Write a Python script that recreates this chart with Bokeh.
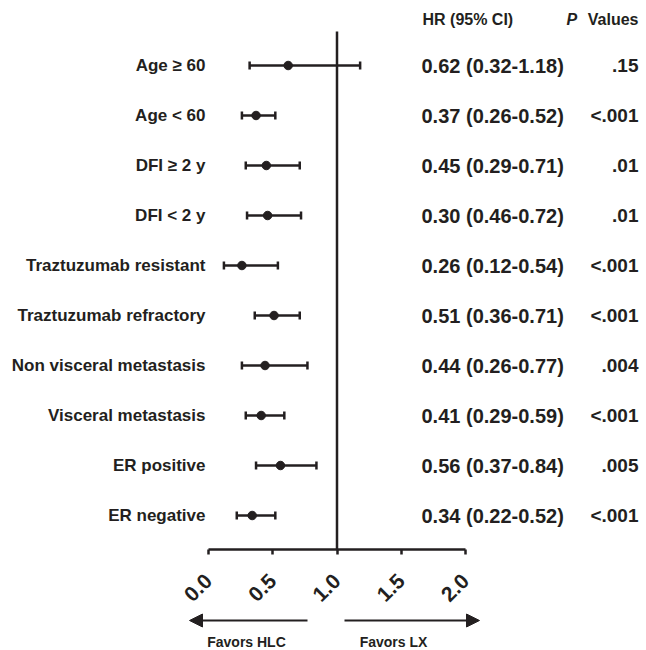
import math
from bokeh.plotting import figure
from bokeh.models import (ColumnDataSource, Range1d, FixedTicker, PrintfTickFormatter,
                          Whisker, TeeHead, Arrow, NormalHead)
from bokeh.core.properties import value
from bokeh.embed import file_html
from bokeh.resources import INLINE

# ---------------- data ----------------
subgroups = ["Age \u2265 60", "Age < 60", "DFI \u2265 2 y", "DFI < 2 y",
             "Traztuzumab resistant", "Traztuzumab refractory",
             "Non visceral metastasis", "Visceral metastasis",
             "ER positive", "ER negative"]
hr = [0.62, 0.37, 0.45, 0.46, 0.26, 0.51, 0.44, 0.41, 0.56, 0.34]
ci_low = [0.32, 0.26, 0.29, 0.30, 0.12, 0.36, 0.26, 0.29, 0.37, 0.22]
ci_high = [1.18, 0.52, 0.71, 0.72, 0.54, 0.71, 0.77, 0.59, 0.84, 0.52]
hr_text = ["0.62 (0.32-1.18)", "0.37 (0.26-0.52)", "0.45 (0.29-0.71)",
           "0.30 (0.46-0.72)", "0.26 (0.12-0.54)", "0.51 (0.36-0.71)",
           "0.44 (0.26-0.77)", "0.41 (0.29-0.59)", "0.56 (0.37-0.84)",
           "0.34 (0.22-0.52)"]
p_values = [".15", "<.001", ".01", ".01", "<.001", "<.001", ".004", "<.001",
            ".005", "<.001"]
x_ticks = [0.0, 0.5, 1.0, 1.5, 2.0]
favors = ["Favors HLC", "Favors LX"]

# ---------------- layout ----------------
INK = "#231f20"
FONT = value("Liberation Sans")
n = len(subgroups)
rows = list(range(n, 0, -1))

W, H = 646, 650
px_per_x = 128.5
x0_px = 208
px_per_y = 50.0
row0_px = 65

def sx(px):  # picture px -> data x
    return (px - x0_px) / px_per_x

def sy(py):  # picture px -> data y
    return n - (py - row0_px) / px_per_y

p = figure(width=W, height=H, output_backend="svg", toolbar_location=None,
           x_range=Range1d(sx(0), sx(W)), y_range=Range1d(sy(H), sy(0)),
           y_axis_location=None, min_border=0, outline_line_color=None,
           background_fill_color="white", border_fill_color="white")
p.grid.visible = False

src = ColumnDataSource(dict(y=rows, hr=hr, lo=ci_low, hi=ci_high, lab=subgroups,
                            hrt=hr_text, pv=p_values))

# reference line at HR = 1
p.segment(x0=[1.0], y0=[sy(549)], x1=[1.0], y1=[sy(31)], line_color=INK, line_width=2.5)

# CI bars
p.segment(x0="lo", y0="y", x1="hi", y1="y", source=src, line_color=INK, line_width=2.5)
p.add_layout(Whisker(source=src, base="y", lower="lo", upper="hi", dimension="width",
                     line_width=0, line_alpha=0,
                     lower_head=TeeHead(size=8, line_width=2.5, line_color=INK),
                     upper_head=TeeHead(size=8, line_width=2.5, line_color=INK)))
p.scatter(x="hr", y="y", source=src, size=8.5, color=INK)

# subgroup labels
p.text(x=sx(205), y="y", text="lab", source=src, text_align="right",
       text_baseline="middle", text_font=FONT, text_font_style="bold",
       text_font_size="17px", text_color=INK)
# HR texts
p.text(x=sx(421), y="y", text="hrt", source=src, text_align="left",
       text_baseline="middle", text_font=FONT, text_font_style="bold",
       text_font_size="20px", text_color=INK)
# P values
p.text(x=sx(638), y="y", text="pv", source=src, text_align="right",
       text_baseline="middle", text_font=FONT, text_font_style="bold",
       text_font_size="19px", text_color=INK)

# headers
p.text(x=[sx(422)], y=[sy(19)], text=["HR (95% CI)"], text_align="left",
       text_baseline="middle", text_font=FONT, text_font_style="bold",
       text_font_size="16px", text_color=INK)
p.text(x=[sx(566)], y=[sy(19)], text=["P"], text_align="left",
       text_baseline="middle", text_font=FONT, text_font_style="bold italic",
       text_font_size="16px", text_color=INK)
p.text(x=[sx(638)], y=[sy(19)], text=["Values"], text_align="right",
       text_baseline="middle", text_font=FONT, text_font_style="bold",
       text_font_size="16px", text_color=INK)

# x axis in the plot area
ax = p.xaxis[0]
ax.fixed_location = sy(549)
ax.bounds = (x_ticks[0], x_ticks[-1])
ax.ticker = FixedTicker(ticks=x_ticks)
ax.formatter = PrintfTickFormatter(format="%.1f")
ax.axis_line_width = 2.5
ax.axis_line_color = INK
ax.major_tick_line_width = 2.5
ax.major_tick_line_color = INK
ax.major_tick_in = 0
ax.major_tick_out = 5
ax.minor_tick_line_color = None
ax.major_label_orientation = math.pi / 4
ax.major_label_standoff = 23
ax.major_label_text_font = "Liberation Sans"
ax.major_label_text_font_style = "bold"
ax.major_label_text_font_size = "21px"
ax.major_label_text_color = INK

# favour arrows
ya = sy(620)
p.add_layout(Arrow(x_start=sx(307), y_start=ya, x_end=sx(189), y_end=ya,
                   line_width=2, line_color=INK,
                   end=NormalHead(size=13, fill_color=INK, line_color=INK)))
p.add_layout(Arrow(x_start=sx(344), y_start=ya, x_end=sx(479), y_end=ya,
                   line_width=2, line_color=INK,
                   end=NormalHead(size=13, fill_color=INK, line_color=INK)))
p.text(x=[sx(246), sx(393)], y=[sy(641), sy(641)], text=favors, text_align="center",
       text_baseline="middle", text_font=FONT, text_font_style="bold",
       text_font_size="14px", text_color=INK)

open("out.html", "w").write(file_html(p, INLINE))
